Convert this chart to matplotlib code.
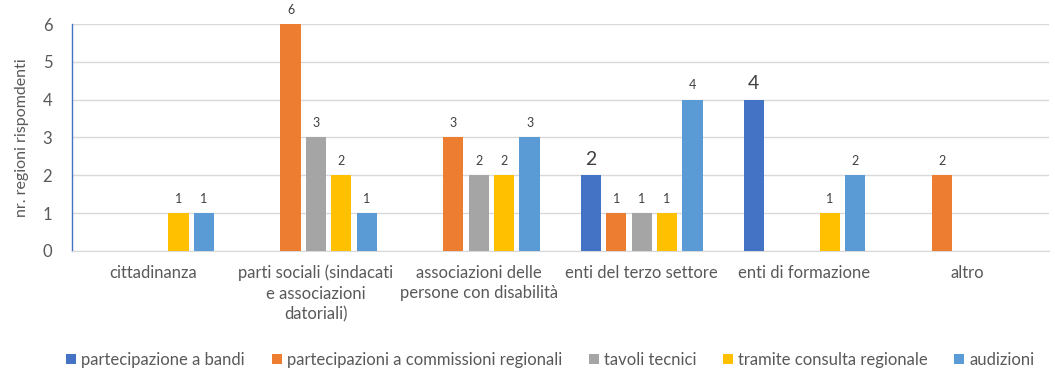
import numpy as np
import matplotlib.pyplot as plt

plt.rcParams["font.family"] = ["Lato", "DejaVu Sans"]

categories = [
    "cittadinanza",
    "parti sociali (sindacati\ne associazioni\ndatoriali)",
    "associazioni delle\npersone con disabilità",
    "enti del terzo settore",
    "enti di formazione",
    "altro",
]
series_names = [
    "partecipazione a bandi",
    "partecipazioni a commissioni regionali",
    "tavoli tecnici",
    "tramite consulta regionale",
    "audizioni",
]
bandi = [0, 0, 0, 2, 4, 0]
commissioni = [0, 6, 3, 1, 0, 2]
tavoli = [0, 3, 2, 1, 0, 0]
consulta = [1, 2, 2, 1, 1, 0]
audizioni = [1, 1, 3, 4, 2, 0]
colors = ["#4472C4", "#ED7D31", "#A5A5A5", "#FFC000", "#5B9BD5"]

# labels drawn in a bigger font (series index, category index)
big_labels = {(0, 3), (0, 4)}

fig = plt.figure(figsize=(10.55, 3.7), dpi=100)
ax = fig.add_axes([0.068, 0.322, 0.926, 0.613])

x = np.arange(len(categories))
step = 0.156
width = 0.124
all_series = [bandi, commissioni, tavoli, consulta, audizioni]
for i, (name, vals, col) in enumerate(zip(series_names, all_series, colors)):
    pos = x + (i - 2) * step
    ax.bar(pos, vals, width, color=col, label=name, zorder=3)
    for j, (p, v) in enumerate(zip(pos, vals)):
        if v == 0:
            continue
        big = (i, j) in big_labels
        ax.text(p, v + (0.2 if big else 0.22), str(v), ha="center", va="bottom",
                fontsize=14 if big else 9, color="#404040")

ax.set_xlim(-0.5, len(categories) - 0.5)
ax.set_ylim(0, 6)
ax.set_yticks(range(7))
ax.set_xticks(x)
ax.set_xticklabels(categories, fontsize=12, color="#595959", linespacing=1.35)
ax.tick_params(axis="y", labelsize=12, labelcolor="#595959", length=0, pad=14)
ax.tick_params(axis="x", length=0, pad=10)
ax.grid(axis="y", color="#D9D9D9", linewidth=1, zorder=0)
for s in ["top", "right"]:
    ax.spines[s].set_visible(False)
ax.spines["bottom"].set_color("#D9D9D9")
ax.spines["left"].set_color("#4472C4")
ax.spines["left"].set_linewidth(1)
ax.set_ylabel("nr. regioni rispomdenti", fontsize=11.5, color="#595959", labelpad=10)

ax.legend(loc="lower center", bbox_to_anchor=(0.49, -0.545), ncol=5, frameon=False,
          fontsize=12, handlelength=0.6, handleheight=0.6, handletextpad=0.3,
          columnspacing=1.6, labelcolor="#595959", borderaxespad=0)

fig.savefig("out.png", dpi=100)
